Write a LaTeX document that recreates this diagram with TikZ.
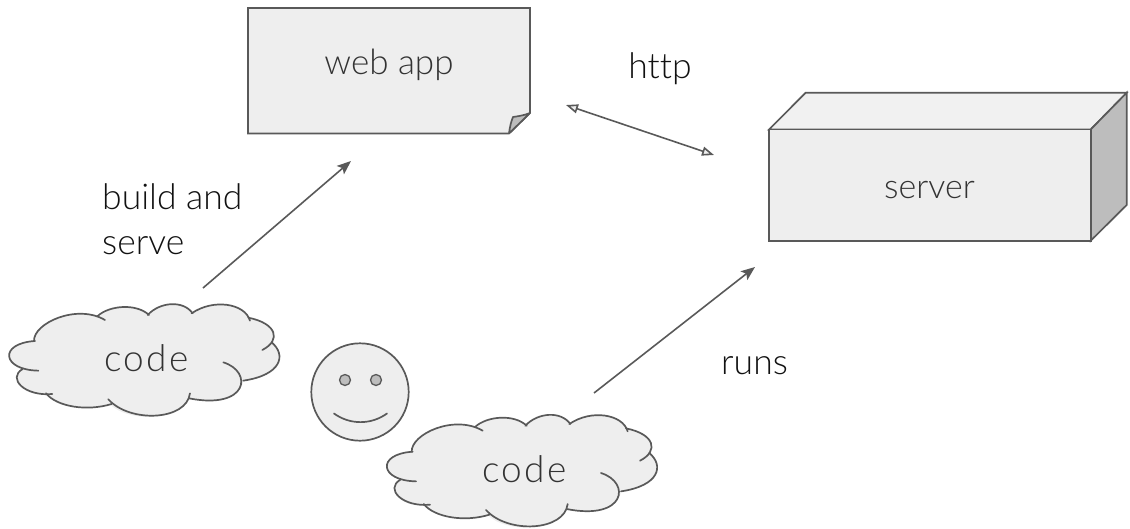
\documentclass[tikz,border=0pt]{standalone}
\usepackage{fontspec}
\setmainfont[Ligatures=NoCommon]{Lato Light}
\usetikzlibrary{arrows.meta}
\definecolor{shapefill}{HTML}{EEEEEE}
\definecolor{shapeline}{HTML}{595959}
\definecolor{sidefill}{HTML}{BDBDBD}
\definecolor{topfill}{HTML}{F1F1F1}
\definecolor{labelcol}{HTML}{111111}
\definecolor{innercol}{HTML}{333333}
\tikzset{
  shapeedge/.style={draw=shapeline,line width=1.7pt,line join=miter},
  filledshape/.style={shapeedge,fill=shapefill},
  solidarrow/.style={draw=shapeline,line width=1.6pt,-{Stealth[length=14pt,width=11pt,inset=3pt]}},
  openboth/.style={draw=shapeline,line width=1.6pt,{Triangle[length=12pt,width=9pt,fill=shapefill]}-{Triangle[length=12pt,width=9pt,fill=shapefill]}},
  biglabel/.style={inner sep=0pt,text=labelcol,font=\fontsize{35.5}{45}\selectfont,align=left},
  inlabel/.style={inner sep=0pt,text=innercol,font=\fontsize{35}{42}\selectfont},
  cloudshape/.pic={
    \begin{scope}[x=0.3333pt,y=-0.3333pt]
    \path[fill=shapefill] (105,153) .. controls (100,100) and (220,50) .. (300,78)
      .. controls (340,45) and (410,40) .. (447,72)
      .. controls (480,35) and (550,35) .. (578,68)
      .. controls (640,25) and (735,40) .. (750,85)
      .. controls (810,95) and (835,130) .. (815,157)
      .. controls (860,195) and (845,255) .. (730,272)
      .. controls (725,320) and (640,350) .. (568,325)
      .. controls (540,392) and (390,400) .. (328,342)
      .. controls (260,365) and (170,350) .. (140,312)
      .. controls (70,320) and (25,270) .. (68,237)
      .. controls (10,225) and (5,160) .. (105,153) -- cycle;
    \path[shapeedge,line cap=round] (102,153) .. controls (100,100) and (230,40) .. (315,90);
    \path[shapeedge,line cap=round] (293,78) .. controls (330,45) and (410,40) .. (447,75);
    \path[shapeedge,line cap=round] (443,75) .. controls (480,35) and (550,30) .. (578,70);
    \path[shapeedge,line cap=round] (575,70) .. controls (640,25) and (735,40) .. (750,92);
    \path[shapeedge,line cap=round] (745,83) .. controls (830,100) and (845,150) .. (787,180);
    \path[shapeedge,line cap=round] (815,157) .. controls (860,195) and (845,255) .. (730,272);
    \path[shapeedge,line cap=round] (670,217) .. controls (760,245) and (745,360) .. (567,325);
    \path[shapeedge,line cap=round] (570,310) .. controls (560,392) and (390,400) .. (325,328);
    \path[shapeedge,line cap=round] (335,342) .. controls (260,365) and (170,350) .. (138,310);
    \path[shapeedge,line cap=round] (157,312) .. controls (75,320) and (20,265) .. (68,237);
    \path[shapeedge,line cap=round] (115,242) .. controls (5,240) and (-5,160) .. (105,153);
    \end{scope}
  }
}
\begin{document}
\begin{tikzpicture}[x=1pt,y=-1pt]
\useasboundingbox (0,0) rectangle (1130,528);
% web app
\path[filledshape] (248,8) -- (530,8) -- (530,113) -- (509,133.5) -- (248,133.5) -- cycle;
\path[shapeedge,fill=sidefill,line join=bevel] (509,133.5) .. controls (510,126) and (511,122) .. (513,117) .. controls (520,116) and (525,115) .. (530,113) -- cycle;
\node[inlabel] (webapp) at (389,65) {web app};
% server
\path[shapeedge,fill=topfill] (769,129.5) -- (805.7,92.7) -- (1126.7,92.7) -- (1090.7,129.5) -- cycle;
\path[shapeedge,fill=sidefill] (1090.7,129.5) -- (1126.7,92.7) -- (1126.7,205) -- (1090.7,240.7) -- cycle;
\path[filledshape] (769,129.5) rectangle (1090.7,240.7);
\node[inlabel,font=\fontsize{34}{42}\selectfont] (server) at (929.5,190) {server};
% clouds
\pic at (0,290) {cloudshape};
\pic at (377.7,400.7) {cloudshape};
\node[inlabel,font=\fontsize{37}{42}\selectfont] (code1) at (146.5,358) {\addfontfeature{LetterSpace=6}code};
\node[inlabel,font=\fontsize{37}{42}\selectfont] (code2) at (524.5,469) {\addfontfeature{LetterSpace=6}code};
% smiley
\path[filledshape] (360,392) circle (48.7);
\path[shapeedge,fill=sidefill,line width=1.3pt] (345,380) circle (5.5);
\path[shapeedge,fill=sidefill,line width=1.3pt] (376,380) circle (5.5);
\path[shapeedge,line cap=round] (334,413.5) .. controls (350,425) and (371,425) .. (387,413.5);
% labels
\node[biglabel,anchor=north west] (build) at (102,183) {build and\\serve};
\node[biglabel] (http) at (660,69) {http};
\node[biglabel] (runs) at (754.5,366) {runs};
% connectors
\coordinate (a1) at (203,288);
\coordinate (a2) at (351,161);
\coordinate (b1) at (594,393);
\coordinate (b2) at (755,267);
\coordinate (c1) at (566,105);
\coordinate (c2) at (714,155);
\draw[solidarrow] (a1) -- (a2);
\draw[solidarrow] (b1) -- (b2);
\draw[openboth] (c1) -- (c2);
\end{tikzpicture}
\end{document}
